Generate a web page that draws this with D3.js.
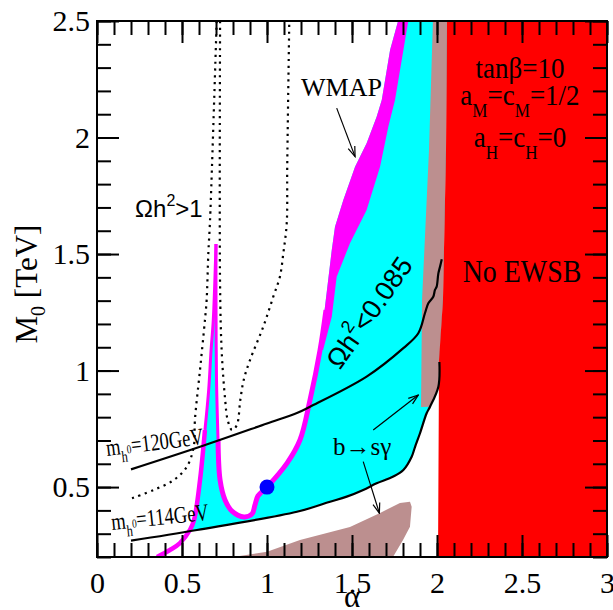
<!DOCTYPE html>
<html>
<head>
<meta charset="utf-8">
<script src="https://cdn.jsdelivr.net/npm/d3@7"></script>
<style>
body { margin: 0; background: #fff; }
svg { display: block; font-family: "Liberation Serif", "Times New Roman", serif; }
</style>
</head>
<body>
<svg id="chart" width="613" height="610"></svg>
<script>
// axis ticks
var xMajor = [0, 0.5, 1, 1.5, 2, 2.5, 3];
var yMajor = [0.5, 1, 1.5, 2, 2.5];
var xMinor = d3.range(0, 31).map(function(i) { return i / 10; });
var yMinor = d3.range(2, 26).map(function(i) { return i / 10; });

// m_h0 contours (alpha, M0 in TeV)
var mh114 = [[0.2,0.27],[0.588,0.316],[1.176,0.394],[1.371,0.437],[1.469,0.459],[1.566,0.488],[1.645,0.516],
    [1.743,0.545],[1.802,0.573],[1.851,0.63],[1.871,0.673],[1.9,0.731],[1.939,0.817],[1.959,0.845],[2.008,0.931],[2.014,1.037]];
var mh120 = [[0.2,0.576],[0.606,0.673],[1.0,0.773],[1.176,0.818],[1.253,0.845],[1.586,0.974],[1.802,1.096],
    [1.89,1.16],[1.929,1.246],[1.949,1.289],[1.978,1.317],[1.988,1.346],[1.998,1.36],[2.008,1.417],[2.018,1.446],[2.028,1.478]];

// WMAP boundary: left branch (bottom -> spike tip) and right branch
var wmapLeft = [[0.353,0.2],[0.429,0.23],[0.488,0.26],[0.547,0.316],[0.571,0.359],[0.606,0.53],[0.635,0.745],
    [0.657,0.917],[0.671,1.088],[0.684,1.217],[0.7,1.543]];
var wmapRight = [[0.7,1.543],[0.7,1.303],[0.703,0.96],[0.712,0.702],[0.724,0.53],[0.753,0.445],[0.794,0.397],
    [0.865,0.372],[0.912,0.385],[0.929,0.423],[0.947,0.462],[1.0,0.5],[1.118,0.603],[1.194,0.702],[1.253,0.874],
    [1.312,1.088],[1.347,1.26]];
// WMAP band, outer edge (top -> bottom) and inner edge (bottom -> top)
var wmapOuter = [[1.771,2.5],[1.724,2.376],[1.675,2.161],[1.645,2.089],[1.586,1.975],[1.518,1.875],[1.449,1.732],
    [1.4,1.617],[1.381,1.517],[1.341,1.274],[1.312,1.088]];
var wmapInner = [[1.33,1.088],[1.381,1.231],[1.41,1.403],[1.488,1.546],[1.586,1.689],[1.665,1.875],[1.714,2.047],
    [1.753,2.161],[1.831,2.5]];

// no EWSB boundary (top -> bottom)
var redEdge = [[2.059,2.5],[2.053,1.947],[2.035,1.303],[2.012,1.045],[2.006,0.2]];

// b -> s gamma excluded regions
var bsgUpper = [[1.976,2.5],[1.953,1.947],[1.912,1.303],[1.906,0.844],[1.959,0.845],[2.008,0.931],[2.014,1.037],
    [2.035,1.303],[2.053,1.947],[2.059,2.5]];
var bsgLower = [[0.8,0.2],[1.0,0.222],[1.194,0.273],[1.488,0.329],[1.665,0.389],[1.782,0.432],[1.841,0.437],
    [1.851,0.416],[1.841,0.33],[1.8,0.273],[1.741,0.2]];

// Omega h^2 = 1 contours (dotted)
var omegaLeft = [[0.704,2.5],[0.665,1.646],[0.655,1.505],[0.645,1.303],[0.635,1.217],[0.606,1.003],[0.576,0.788],
    [0.569,0.673],[0.529,0.588],[0.451,0.53],[0.334,0.488],[0.206,0.452]];
var omegaV = [[0.724,2.5],[0.724,1.36],[0.734,1.075],[0.754,0.874],[0.768,0.79],[0.794,0.745],[0.822,0.765],
    [0.843,0.874],[0.863,0.96],[0.9,1.045],[0.978,1.188],[1.037,1.317],[1.076,1.403],[1.096,1.503],[1.116,1.632],
    [1.119,1.875],[1.131,2.5]];

var benchmark = [1.0, 0.5];

var svg = d3.select('#chart');
var x = d3.scaleLinear().domain([0, 3]).range([97, 607]);
var y = d3.scaleLinear().domain([0.2, 2.5]).range([557, 21]);

var line = d3.line().x(function(d) { return x(d[0]); }).y(function(d) { return y(d[1]); });
var smooth = d3.line().x(function(d) { return x(d[0]); }).y(function(d) { return y(d[1]); })
    .curve(d3.curveCatmullRom.alpha(0.5));

var defs = svg.append('defs');
defs.append('clipPath').attr('id', 'clip')
    .append('rect')
    .attr('x', x(0)).attr('y', y(2.5))
    .attr('width', x(3) - x(0)).attr('height', y(0.2) - y(2.5));
defs.append('marker')
    .attr('id', 'arr')
    .attr('viewBox', '-11 -5 12 10')
    .attr('refX', 0).attr('refY', 0)
    .attr('markerWidth', 12).attr('markerHeight', 10)
    .attr('markerUnits', 'userSpaceOnUse')
    .attr('orient', 'auto')
    .append('path')
    .attr('d', 'M-10,-3.5L0,0L-10,3.5')
    .attr('fill', 'none').attr('stroke', '#000').attr('stroke-width', 1.2);

var plot = svg.append('g').attr('clip-path', 'url(#clip)');

// cyan region: Omega h^2 < 0.085
var cyanPts = wmapLeft.slice(3)
    .concat(wmapRight.slice(1))
    .concat(wmapOuter.slice().reverse())
    .concat([redEdge[0], redEdge[1], redEdge[2]])
    .concat(mh114.slice(1).reverse());
plot.append('path').attr('d', line(cyanPts) + 'Z').attr('fill', '#00ffff');

// WMAP band
plot.append('path')
    .attr('d', line(wmapOuter.concat(wmapInner)) + 'Z')
    .attr('fill', '#ff00ff');

// b -> s gamma
plot.append('path').attr('d', line(bsgUpper) + 'Z').attr('fill', '#bc8f8f');
plot.append('path').attr('d', line(bsgLower) + 'Z').attr('fill', '#bc8f8f');

// no EWSB
plot.append('path')
    .attr('d', line(redEdge.concat([[3, 0.2], [3, 2.5]])) + 'Z')
    .attr('fill', '#ff0000');

// dotted Omega h^2 = 1
[omegaLeft, omegaV].forEach(function(pts) {
    plot.append('path')
        .attr('d', smooth(pts))
        .attr('fill', 'none')
        .attr('stroke', '#000')
        .attr('stroke-width', 2.2)
        .attr('stroke-dasharray', '2.2,4.6');
});

// WMAP lines
plot.append('path').attr('d', smooth(wmapLeft.slice(0, 7)))
    .attr('fill', 'none').attr('stroke', '#ff00ff').attr('stroke-width', 4.5);
plot.append('path').attr('d', smooth(wmapLeft.slice(6)))
    .attr('fill', 'none').attr('stroke', '#ff00ff').attr('stroke-width', 3);
plot.append('path').attr('d', smooth(wmapRight.slice(0, 4)))
    .attr('fill', 'none').attr('stroke', '#ff00ff').attr('stroke-width', 3);
plot.append('path').attr('d', smooth(wmapRight.slice(3)))
    .attr('fill', 'none').attr('stroke', '#ff00ff').attr('stroke-width', 5);

// higgs mass contours
[mh114, mh120].forEach(function(pts) {
    plot.append('path')
        .attr('d', smooth(pts))
        .attr('fill', 'none')
        .attr('stroke', '#000')
        .attr('stroke-width', 2.2);
});

plot.append('circle')
    .attr('cx', x(benchmark[0])).attr('cy', y(benchmark[1]))
    .attr('r', 7.5).attr('fill', '#0000ff');

// arrows
var arrows = [
    [[1.41, 2.126], [1.518, 1.918]],
    [[1.625, 0.745], [1.89, 0.895]],
    [[1.566, 0.609], [1.661, 0.388]]
];
svg.selectAll('line.arrow')
    .data(arrows)
    .join('line')
    .classed('arrow', true)
    .attr('x1', function(d) { return x(d[0][0]); })
    .attr('y1', function(d) { return y(d[0][1]); })
    .attr('x2', function(d) { return x(d[1][0]); })
    .attr('y2', function(d) { return y(d[1][1]); })
    .attr('stroke', '#000')
    .attr('stroke-width', 1.2)
    .attr('marker-end', 'url(#arr)');

// labels
svg.append('text')
    .attr('x', x(1.438)).attr('y', y(2.178))
    .attr('text-anchor', 'middle')
    .attr('font-size', 26)
    .text('WMAP');

var omText = svg.append('text')
    .attr('x', x(0.224)).attr('y', y(1.659))
    .attr('font-family', '"Liberation Sans", Arial, sans-serif')
    .attr('font-size', 24);
omText.append('tspan').text('\u03a9h');
omText.append('tspan').attr('font-size', 16).attr('dy', -11).text('2');
omText.append('tspan').attr('dy', 11).text('>1');

var omText2 = svg.append('text')
    .attr('transform', 'translate(' + x(1.43) + ',' + y(1.0) + ') rotate(-55)')
    .attr('font-family', '"Liberation Sans", Arial, sans-serif')
    .attr('font-size', 27);
omText2.append('tspan').text('\u03a9h');
omText2.append('tspan').attr('font-size', 18).attr('dy', -13).text('2');
omText2.append('tspan').attr('dy', 13).text('<0.085');

svg.append('text')
    .attr('x', x(1.388)).attr('y', y(0.638))
    .attr('font-size', 25)
    .text('b\u2192s\u03b3');

function higgsLabel(px, py, angle, mass) {
    var t = svg.append('text')
        .attr('transform', 'translate(' + px + ',' + py + ') rotate(' + angle + ')')
        .attr('font-size', 24)
        .attr('textLength', 98)
        .attr('lengthAdjust', 'spacingAndGlyphs');
    t.append('tspan').text('m');
    t.append('tspan').attr('font-size', 16).attr('dy', 8).text('h');
    t.append('tspan').attr('font-size', 12).attr('dy', -8).text('0');
    t.append('tspan').attr('dy', 0).text('=' + mass + 'GeV');
}
higgsLabel(x(0.059), y(0.633), -7, 120);
higgsLabel(x(0.088), y(0.316), -6, 114);

// model parameters, slightly condensed like the original lettering
function paramLine(cx, cy, parts, size) {
    var t = svg.append('text')
        .attr('transform', 'translate(' + x(cx) + ',' + y(cy) + ') scale(0.9,1)')
        .attr('text-anchor', 'middle')
        .attr('font-size', size);
    parts.forEach(function(p) {
        var s = t.append('tspan').text(p[0]);
        if (p[1]) s.attr('dy', p[1]);
        if (p[1] > 0) s.attr('font-size', 19);
    });
    return t;
}
paramLine(2.488, 2.256, [['tan\u03b2=10']], 30);
paramLine(2.488, 2.14, [['a'], ['M', 12], ['=c', -12], ['M', 12], ['=1/2', -12]], 30);
paramLine(2.488, 1.96, [['a'], ['H', 12], ['=c', -12], ['H', 12], ['=0', -12]], 30);
paramLine(2.5, 1.38, [['No EWSB']], 31);

// axes: ticks point inward on all four sides
function styleAxis(g) {
    g.select('.domain').remove();
    g.selectAll('.tick line').attr('stroke', '#000').attr('stroke-width', 2);
    g.attr('font-family', '"Liberation Serif", "Times New Roman", serif').attr('font-size', 30);
    g.selectAll('.tick text').attr('fill', '#000');
}
var fmt = function(d) { return String(d); };

svg.append('g').attr('transform', 'translate(0,' + y(0.2) + ')')
    .call(d3.axisBottom(x).tickValues(xMinor).tickSize(-14).tickFormat('')).call(styleAxis);
svg.append('g').attr('transform', 'translate(0,' + y(0.2) + ')')
    .call(d3.axisBottom(x).tickValues(xMajor).tickSizeInner(-22).tickSizeOuter(0).tickPadding(15).tickFormat(fmt))
    .call(styleAxis);
svg.append('g').attr('transform', 'translate(0,' + y(2.5) + ')')
    .call(d3.axisTop(x).tickValues(xMinor).tickSize(-14).tickFormat('')).call(styleAxis);
svg.append('g').attr('transform', 'translate(0,' + y(2.5) + ')')
    .call(d3.axisTop(x).tickValues(xMajor).tickSize(-22).tickFormat('')).call(styleAxis);
svg.append('g').attr('transform', 'translate(' + x(0) + ',0)')
    .call(d3.axisLeft(y).tickValues(yMinor).tickSize(-14).tickFormat('')).call(styleAxis);
svg.append('g').attr('transform', 'translate(' + x(0) + ',0)')
    .call(d3.axisLeft(y).tickValues(yMajor).tickSizeInner(-22).tickSizeOuter(0).tickPadding(7).tickFormat(fmt))
    .call(styleAxis);
svg.append('g').attr('transform', 'translate(' + x(3) + ',0)')
    .call(d3.axisRight(y).tickValues(yMinor).tickSize(-14).tickFormat('')).call(styleAxis);
svg.append('g').attr('transform', 'translate(' + x(3) + ',0)')
    .call(d3.axisRight(y).tickValues(yMajor).tickSize(-22).tickFormat('')).call(styleAxis);

svg.append('rect')
    .attr('x', x(0)).attr('y', y(2.5))
    .attr('width', x(3) - x(0)).attr('height', y(0.2) - y(2.5))
    .attr('fill', 'none').attr('stroke', '#000').attr('stroke-width', 2);

// axis titles
svg.append('text')
    .attr('x', (x(0) + x(3)) / 2).attr('y', 607)
    .attr('text-anchor', 'middle')
    .attr('font-size', 31)
    .text('\u03b1');
var yt = svg.append('text')
    .attr('transform', 'translate(37,284) rotate(-90)')
    .attr('text-anchor', 'middle')
    .attr('font-size', 31);
yt.append('tspan').text('M');
yt.append('tspan').attr('font-size', 20).attr('dy', 8).text('0');
yt.append('tspan').attr('dy', -8).text(' [TeV]');
</script>
</body>
</html>
